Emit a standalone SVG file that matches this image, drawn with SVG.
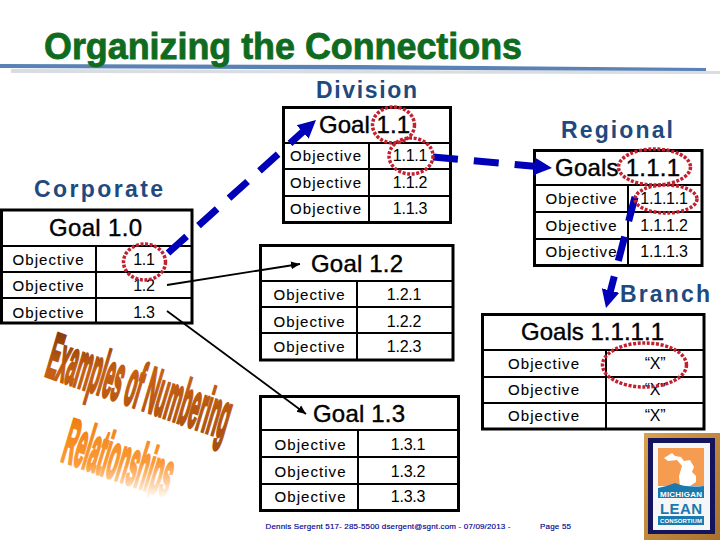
<svg xmlns="http://www.w3.org/2000/svg" width="720" height="540" viewBox="0 0 720 540">
<style>
text{font-family:"Liberation Sans",Arial,sans-serif;fill:#000}
.box{fill:#fff;stroke:#000;stroke-width:3}
.div{stroke:#000;stroke-width:2;fill:none}
.obj{font-size:15px;stroke:#000;stroke-width:.1}
.num{font-size:16px;text-anchor:middle;letter-spacing:-.2px}
.goal{font-size:24px;stroke:#000;stroke-width:.4}
.lvl{font-size:23px;font-weight:bold;fill:#1f4a80}
.ring{fill:none;stroke:#c2202e;stroke-width:3.5;stroke-dasharray:3 1.6}
.dash{fill:none;stroke:#0000b8;stroke-width:7;stroke-dasharray:25 16}
.thin{fill:none;stroke:#000;stroke-width:1.8}
.foot{font-size:8px;fill:#000090;stroke:#000090;stroke-width:.15}
.wa{font-size:40px;font-weight:bold}
</style>
<defs>
<marker id="big" markerUnits="userSpaceOnUse" markerWidth="24" markerHeight="24" refX="18" refY="12" orient="auto"><path d="M0 3 L18 12 L0 21 Z" fill="#0000b8"/></marker>
<marker id="small" markerUnits="userSpaceOnUse" markerWidth="12" markerHeight="10" refX="9" refY="5" orient="auto"><path d="M0 1 L9 5 L0 9 Z" fill="#000"/></marker>
<linearGradient id="wa1" gradientUnits="userSpaceOnUse" x1="0" y1="-27.6" x2="6.7" y2="45.4"><stop offset="0" stop-color="#8a3c08"/><stop offset=".35" stop-color="#c66012"/><stop offset="1" stop-color="#a9500e"/></linearGradient>
<linearGradient id="wa2" gradientUnits="userSpaceOnUse" x1="0" y1="-27" x2="5" y2="25.8"><stop offset="0" stop-color="#f07f12"/><stop offset=".55" stop-color="#fb9a38"/><stop offset="1" stop-color="#ffffff"/></linearGradient>
<linearGradient id="frame" x1="0" y1="0" x2="1" y2="1"><stop offset="0" stop-color="#d9a04e"/><stop offset="1" stop-color="#a8702c"/></linearGradient>
</defs>

<g id="title">
<polygon points="11,69 720,71 720,74 11,73" fill="#d9dce0"/>
<polygon points="0,64 360,65 706,68 706,71 360,69.500 0,68" fill="#5b82b4"/>
<text x="44" y="59" font-size="36" font-weight="bold" style="fill:#0f6b1e;stroke:#0f6b1e;stroke-width:.8" textLength="478" lengthAdjust="spacingAndGlyphs">Organizing the Connections</text>
</g>

<g id="labels">
<text class="lvl" x="316" y="98" textLength="101">Division</text>
<text class="lvl" x="561" y="138" textLength="112">Regional</text>
<text class="lvl" x="34" y="197" textLength="129">Corporate</text>
<text class="lvl" x="620" y="302" textLength="90">Branch</text>
</g>

<g id="goal-1-0">
<rect class="box" x="1.500" y="210" width="190.500" height="113"/>
<path class="div" d="M1.500 246H192M1.500 272H192M1.500 298H192M96 246V323"/>
<text class="goal" x="49" y="236" textLength="93">Goal 1.0</text>
<text class="obj" x="12.500" y="265" textLength="71">Objective</text><text class="num" x="144" y="265">1.1</text>
<text class="obj" x="12.500" y="291" textLength="71">Objective</text><text class="num" x="144" y="291">1.2</text>
<text class="obj" x="12.500" y="318" textLength="71">Objective</text><text class="num" x="144" y="318">1.3</text>
</g>

<g id="goal-1-1">
<rect class="box" x="283.500" y="107.500" width="167" height="115"/>
<path class="div" d="M283.500 143H451M283.500 169H451M283.500 196H451M369 143V222"/>
<text class="goal" x="319" y="133" textLength="91">Goal 1.1</text>
<text class="obj" x="290" y="161" textLength="71">Objective</text><text class="num" x="410" y="161">1.1.1</text>
<text class="obj" x="290" y="188" textLength="71">Objective</text><text class="num" x="410" y="188">1.1.2</text>
<text class="obj" x="290" y="214" textLength="71">Objective</text><text class="num" x="410" y="214">1.1.3</text>
</g>

<g id="goal-1-2">
<rect class="box" x="260.500" y="245.500" width="192.500" height="114.500"/>
<path class="div" d="M260.500 281H453M260.500 307H453M260.500 333H453M357 281V360"/>
<text class="goal" x="311" y="272" textLength="92">Goal 1.2</text>
<text class="obj" x="273.500" y="300" textLength="71">Objective</text><text class="num" x="404" y="300">1.2.1</text>
<text class="obj" x="273.500" y="327" textLength="71">Objective</text><text class="num" x="404" y="327">1.2.2</text>
<text class="obj" x="273.500" y="352" textLength="71">Objective</text><text class="num" x="404" y="352">1.2.3</text>
</g>

<g id="goal-1-3">
<rect class="box" x="260.500" y="396.500" width="198" height="114"/>
<path class="div" d="M260.500 430H458M260.500 457H458M260.500 484H458M358 430V510"/>
<text class="goal" x="313" y="422" textLength="92">Goal 1.3</text>
<text class="obj" x="274.500" y="450" textLength="71">Objective</text><text class="num" x="408" y="450">1.3.1</text>
<text class="obj" x="274.500" y="477" textLength="71">Objective</text><text class="num" x="408" y="477">1.3.2</text>
<text class="obj" x="274.500" y="502" textLength="71">Objective</text><text class="num" x="408" y="502">1.3.3</text>
</g>

<g id="goals-1-1-1">
<rect class="box" x="534.500" y="150.500" width="167.500" height="115"/>
<path class="div" d="M534.500 185H702M534.500 212H702M534.500 239H702M628 185V265"/>
<text class="goal" x="555" y="176" textLength="125">Goals 1.1.1</text>
<text class="obj" x="545.500" y="204" textLength="71">Objective</text><text class="num" x="664" y="204">1.1.1.1</text>
<text class="obj" x="545.500" y="231" textLength="71">Objective</text><text class="num" x="664" y="231">1.1.1.2</text>
<text class="obj" x="545.500" y="257" textLength="71">Objective</text><text class="num" x="664" y="257">1.1.1.3</text>
</g>

<g id="goals-1-1-1-1">
<rect class="box" x="482.500" y="314.500" width="221.500" height="114.500"/>
<path class="div" d="M482.500 350H704M482.500 377H704M482.500 403H704M606 350V429"/>
<text class="goal" x="521" y="340" textLength="143">Goals 1.1.1.1</text>
<text class="obj" x="508" y="369" textLength="71">Objective</text><text class="num" x="655" y="369">“X”</text>
<text class="obj" x="508" y="395" textLength="71">Objective</text><text class="num" x="655" y="395">“X”</text>
<text class="obj" x="508" y="421" textLength="71">Objective</text><text class="num" x="655" y="421">“X”</text>
</g>

<g id="connectors">
<path class="dash" d="M168 253L316 120" marker-end="url(#big)"/>
<path class="dash" d="M433 157L552 168" marker-end="url(#big)"/>
<path class="dash" d="M635 197L606 308" marker-end="url(#big)"/>
<path class="thin" d="M167 285L300 264" marker-end="url(#small)"/>
<path class="thin" d="M167 311L306 414" marker-end="url(#small)"/>
</g>

<g id="rings">
<ellipse class="ring" cx="144.500" cy="262" rx="21" ry="18"/>
<ellipse class="ring" cx="393.500" cy="125" rx="21" ry="18"/>
<ellipse class="ring" cx="411" cy="156" rx="22" ry="18"/>
<ellipse class="ring" cx="654.500" cy="167" rx="36" ry="18"/>
<ellipse class="ring" cx="666" cy="199" rx="31" ry="14"/>
<ellipse class="ring" cx="644.500" cy="365" rx="42" ry="22"/>
</g>

<g id="wordart">
<text class="wa" transform="matrix(.393 .139 -.45 1.52 44 375)" style="fill:url(#wa1);stroke:url(#wa1);stroke-width:2.400">Examples of Numbering</text>
<text class="wa" transform="matrix(.405 .142 -.45 1.5 60 460)" style="fill:url(#wa2);stroke:url(#wa2);stroke-width:2.400">Relationships</text>
</g>

<g id="footer">
<text class="foot" x="265.500" y="529" textLength="245">Dennis Sergent 517- 285-5500 dsergent@sgnt.com - 07/09/2013 -</text>
<text class="foot" x="540" y="529" textLength="31">Page 55</text>
</g>

<g id="logo">
<rect x="644" y="433" width="76" height="107" fill="url(#frame)"/>
<rect x="648" y="438" width="67" height="96" fill="#14145e"/>
<rect x="653" y="443" width="57" height="87" fill="#f4f6f8"/>
<rect x="658" y="448" width="46" height="38" fill="#f59c50"/>
<path d="M664 458L672 453L675 456L681 457L684 461L690 460L694 467L692 472L696 476L696 482L690 486L680 487L679 476L682 466L677 460L668 461Z" fill="#fff"/>
<path d="M658 488Q668 486 675 483Q686 488 704 486V498H658Z" fill="#1b79ad"/>
<rect x="658" y="516" width="46" height="9" fill="#1b79ad"/>
<text x="681" y="497" font-size="8" font-weight="bold" text-anchor="middle" style="fill:#fff" textLength="42">MICHIGAN</text>
<text x="681" y="514" font-size="15" font-weight="bold" text-anchor="middle" style="fill:#1b79ad" textLength="42">LEAN</text>
<text x="681" y="523" font-size="6" font-weight="bold" text-anchor="middle" style="fill:#fff" textLength="42">CONSORTIUM</text>
</g>
</svg>
